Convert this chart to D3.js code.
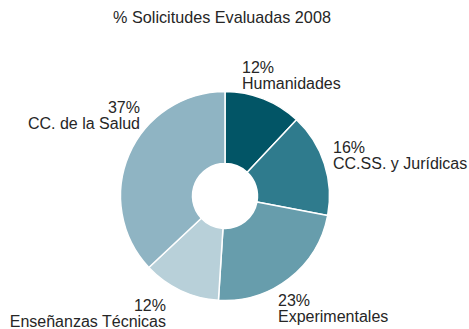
<!DOCTYPE html>
<html>
<head>
<meta charset="utf-8">
<script src="https://cdn.jsdelivr.net/npm/d3@7"></script>
<style>
  html, body { margin: 0; padding: 0; background: #fff; }
  svg { display: block; }
  text { font-family: "Liberation Sans", Arial, sans-serif; fill: #262626; }
</style>
</head>
<body>
<svg id="chart" width="469" height="329"></svg>
<script>
// Share of evaluated applications by field, 2008
const categories = ["Humanidades", "CC.SS. y Jurídicas", "Experimentales", "Enseñanzas Técnicas", "CC. de la Salud"];
const values = [12, 16, 23, 12, 37];
const colors = ["#025566", "#2f7b8d", "#679dac", "#b8d0d9", "#8fb4c3"];
const title = "% Solicitudes Evaluadas 2008";

// Label anchor offsets from the donut centre (first-line baseline) and alignment
const labelOffsets = [[17, -123], [108, -43], [53, 110], [-59, 115], [-85, -83]];
const labelAnchors = ["start", "start", "start", "end", "end"];

const W = 469, H = 329;
const cx = 225, cy = 196, outerR = 104.5, innerR = 32.5;
const fontSize = 16, lineGap = 15.5;

const svg = d3.select("#chart");

svg.append("text")
  .attr("x", 222)
  .attr("y", 23)
  .attr("text-anchor", "middle")
  .style("font-size", "16.2px")
  .text(title);

const pie = d3.pie().sort(null).value(d => d)(values);
const arc = d3.arc().innerRadius(innerR).outerRadius(outerR);

const g = svg.append("g").attr("transform", `translate(${cx},${cy})`);

g.selectAll("path.slice")
  .data(pie)
  .join("path")
  .attr("class", "slice")
  .attr("d", arc)
  .attr("fill", (d, i) => colors[i])
  .attr("stroke", "#fff")
  .attr("stroke-width", 1.5)
  .attr("stroke-linejoin", "round");

const labels = g.selectAll("text.lbl")
  .data(pie)
  .join("text")
  .attr("class", "lbl")
  .attr("text-anchor", (d, i) => labelAnchors[i])
  .style("font-size", fontSize + "px")
  .attr("transform", (d, i) => `translate(${labelOffsets[i][0]},${labelOffsets[i][1]})`);

labels.append("tspan")
  .attr("x", 0).attr("y", 0)
  .text(d => Math.round(d.value / d3.sum(values) * 100) + "%");
labels.append("tspan")
  .attr("x", 0).attr("y", lineGap)
  .text((d, i) => categories[i]);
</script>
</body>
</html>
